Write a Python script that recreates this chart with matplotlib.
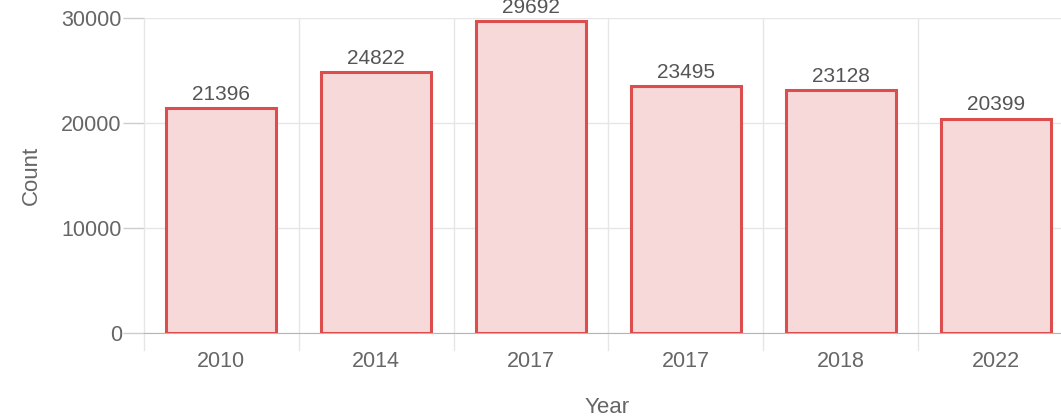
import numpy as np
import matplotlib.pyplot as plt

plt.rcParams['font.family'] = ['Liberation Sans', 'DejaVu Sans']

# data
years = ['2010', '2014', '2017', '2017', '2018', '2022']
counts = [21396, 24822, 29692, 23495, 23128, 20399]

fig = plt.figure(figsize=(10.61, 4.19), dpi=100)
fig.patch.set_facecolor('white')

# axes run off the right edge like the screenshot
W, H = 1061.0, 419.0
left, right, top, bottom = 144, 1073, 18, 333
ax = fig.add_axes([left / W, 1 - bottom / H, (right - left) / W, (bottom - top) / H])

x = np.arange(len(years))
ax.bar(x, counts, width=0.71, color='#f8d9d9', edgecolor='#dc4d4d', linewidth=2.2, zorder=3)

for xi, v in zip(x, counts):
    ax.text(xi, v + 420, str(v), ha='center', va='bottom', fontsize=15, color='#555555', zorder=4)

ax.set_xlim(-0.5, len(years) - 0.5)
ax.set_ylim(0, 30000)
ax.set_yticks([0, 10000, 20000, 30000])
ax.set_xticks(x)
ax.set_xticklabels(years)

# vertical grid at category boundaries
for b in np.arange(-0.5, len(years), 1.0):
    ax.axvline(b, color='#e6e6e6', lw=1, zorder=1, clip_on=False, ymin=-0.055, ymax=1)
ax.yaxis.grid(True, color='#e6e6e6', lw=1, zorder=1)
ax.set_axisbelow(True)

for s in ['top', 'right', 'left']:
    ax.spines[s].set_visible(False)
ax.spines['bottom'].set_color('#b5b5b5')

ax.tick_params(axis='x', length=0, pad=13, labelsize=15.5, labelcolor='#666666')
ax.tick_params(axis='y', length=15, width=1, color='#cccccc', pad=1, labelsize=15.5, labelcolor='#666666')

fig.text(31 / W, 1 - 175 / H, 'Count', rotation=90, ha='center', va='center', fontsize=16, color='#666666')
fig.text(607 / W, 1 - 407 / H, 'Year', ha='center', va='center', fontsize=16, color='#666666')

fig.savefig('out.png', dpi=100)
